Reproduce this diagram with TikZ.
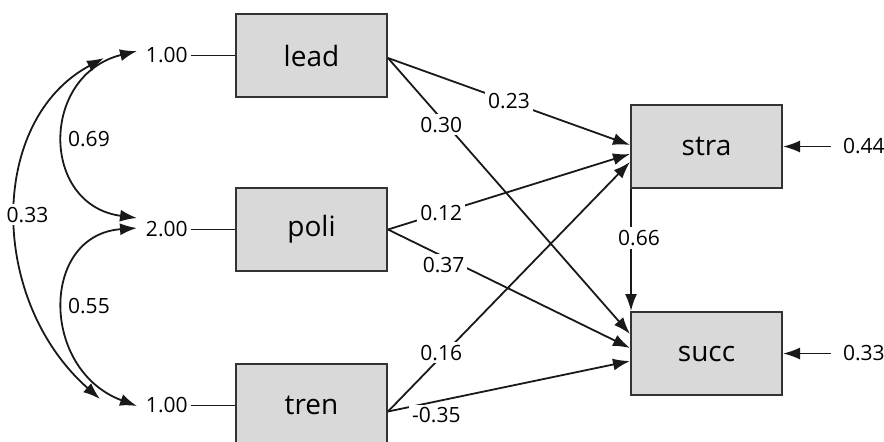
\documentclass[tikz,border=0pt]{standalone}
\usepackage{fontspec}
\setmainfont{Open Sans}
\usetikzlibrary{arrows.meta, positioning}

\tikzset{
    var/.style={rectangle, draw=black!80, line width=1pt, fill=black!15,
        minimum width=75.5pt, minimum height=41.5pt, font=\fontsize{14}{16}\selectfont},
    lab/.style={fill=white, inner sep=1.5pt, font=\fontsize{10.5}{12}\selectfont},
    res/.style={lab, outer sep=4.5pt},
    path/.style={draw=black!90, line width=0.9pt, -{Latex[length=8.5pt,width=6pt]}},
    cov/.style={draw=black!90, line width=0.9pt,
        {Latex[length=8.5pt,width=6pt]}-{Latex[length=8.5pt,width=6pt]}},
}

\begin{document}
\begin{tikzpicture}[x=0.5pt, y=-0.5pt]
        \useasboundingbox (0,0) rectangle (884,441);

        % Draw the variables
        \node[var]                      (lead) at (311.5,55.5) {lead};
        \node[var, below=44.5pt of lead] (poli) {poli};
        \node[var, below=45.5pt of poli] (tren) {tren};
        \node[var]                      (stra) at (706.5,146.5) {stra};
        \node[var, below=61pt of stra]   (succ) {succ};

        % Variances and residuals
        \node[lab, left=22pt of lead]  (vlead) {1.00};
        \node[lab, left=22pt of poli]  (vpoli) {2.00};
        \node[lab, left=22pt of tren]  (vtren) {1.00};
        \node[res, right=24pt of stra] (rstra) {0.44};
        \node[res, right=24pt of succ] (rsucc) {0.33};

        % Ends of the covariance arrows
        \coordinate (c1a) at (137,51);
        \coordinate (c1b) at (104,58);
        \coordinate (c2a) at (137,218);
        \coordinate (c2b) at (137,228);
        \coordinate (c3a) at (100,399);
        \coordinate (c3b) at (137,406);

        % Connect the variables
        \draw[draw=black!90, line width=0.9pt]
            (vlead) -- (lead)
            (vpoli) -- (poli)
            (vtren) -- (tren);
        \draw[path] (rstra) -- (stra);
        \draw[path] (rsucc) -- (succ);

        \path
            ([yshift=-1.25pt]lead.east) edge[path] node[lab, pos=0.5] (p1) {0.23} ([yshift=0.75pt]stra.west)
            ([yshift=-1.25pt]lead.east) edge[path] node[lab, pos=0.22, yshift=-3pt] (p2) {0.30} ([yshift=9.75pt]succ.west)
            (poli.east) edge[path] node[lab, pos=0.22] (p3) {0.12} ([yshift=-3.75pt]stra.west)
            (poli.east) edge[path] node[lab, pos=0.23, yshift=-4pt] (p4) {0.37} ([yshift=2.75pt]succ.west)
            ([yshift=-3pt]tren.east) edge[path] node[lab, pos=0.22, yshift=2pt] (p5) {0.16} ([yshift=-7.75pt]stra.west)
            ([yshift=-3pt]tren.east) edge[path] node[lab, pos=0.2, yshift=-7pt] (p6) {-0.35} ([yshift=-3.75pt]succ.west)
            ([xshift=0.5pt]stra.south west) edge[path] node[lab, pos=0.4, xshift=4pt] (p7) {0.66} ([xshift=0.5pt]succ.north west);

        % Covariances
        \draw[cov] (c1a) .. controls (40,75) and (40,205) .. (c2a)
            node[lab, pos=0.5, right] (k1) {0.69};
        \draw[cov] (c2b) .. controls (40,235) and (40,370) .. (c3b)
            node[lab, pos=0.5, right] (k2) {0.55};
        \draw[cov] (c1b) .. controls (-12,120) and (-12,300) .. (c3a)
            node[lab, pos=0.5, xshift=5.5pt] (k3) {0.33};
\end{tikzpicture}
\end{document}
